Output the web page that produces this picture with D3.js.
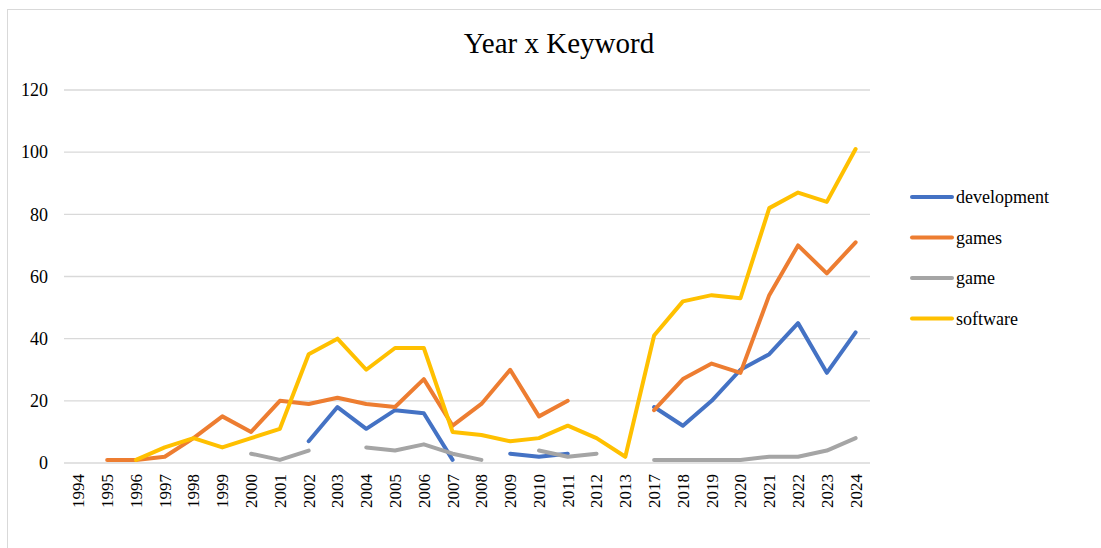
<!DOCTYPE html>
<html>
<head>
<meta charset="utf-8">
<script src="https://cdn.jsdelivr.net/npm/d3@7"></script>
<style>
  body { margin: 0; background: #fff; }
  svg, svg text { font-family: "Liberation Serif", "Times New Roman", "DejaVu Serif", serif; }
  svg { display: block; }
  .grid line { stroke: #d9d9d9; stroke-width: 1.3; }
</style>
</head>
<body>
<div class="container"></div>
<script>
const years = ["1994", "1995", "1996", "1997", "1998", "1999", "2000", "2001", "2002", "2003",
  "2004", "2005", "2006", "2007", "2008", "2009", "2010", "2011", "2012", "2013",
  "2017", "2018", "2019", "2020", "2021", "2022", "2023", "2024"];

// null = no value that year (line has a gap)
const development = [null, null, null, null, null, null, null, null, 7, 18,
  11, 17, 16, 1, null, 3, 2, 3, null, null,
  18, 12, 20, 30, 35, 45, 29, 42];
const games = [null, 1, 1, 2, 8, 15, 10, 20, 19, 21,
  19, 18, 27, 12, 19, 30, 15, 20, null, null,
  17, 27, 32, 29, 54, 70, 61, 71];
const game = [null, null, null, null, null, null, 3, 1, 4, null,
  5, 4, 6, 3, 1, null, 4, 2, 3, null,
  1, 1, 1, 1, 2, 2, 4, 8];
const software = [null, null, 1, 5, 8, 5, 8, 11, 35, 40,
  30, 37, 37, 10, 9, 7, 8, 12, 8, 2,
  41, 52, 54, 53, 82, 87, 84, 101];

const yTicks = [0, 20, 40, 60, 80, 100, 120];

const seriesNames = ["development", "games", "game", "software"];
const seriesValues = [development, games, game, software];
const colors = ["#4472c4", "#ed7d31", "#a5a5a5", "#ffc000"];

const W = 1101, H = 548;
const plot = { left: 64, right: 870, top: 90, bottom: 463 };
const serif = '"Liberation Serif", "Times New Roman", serif';

const svg = d3.select(".container").append("svg")
  .attr("width", W).attr("height", H)
  .attr("font-family", serif);

// outer chart border
svg.append("rect")
  .attr("x", 7.5).attr("y", 9.5)
  .attr("width", 1200).attr("height", 700)
  .attr("fill", "none").attr("stroke", "#d9d9d9").attr("stroke-width", 1);

svg.append("text")
  .attr("x", 559).attr("y", 53)
  .attr("text-anchor", "middle")
  .attr("font-family", serif)
  .attr("font-size", 29)
  .attr("fill", "#000")
  .text("Year x Keyword");

const x = d3.scaleBand().domain(years).range([plot.left, plot.right]);
const y = d3.scaleLinear().domain([0, 120]).range([plot.bottom, plot.top]);

// horizontal grid
svg.append("g").attr("class", "grid")
  .selectAll("line").data(yTicks).join("line")
  .attr("x1", plot.left).attr("x2", plot.right)
  .attr("y1", d => y(d)).attr("y2", d => y(d));

// y axis labels
svg.append("g")
  .selectAll("text").data(yTicks).join("text")
  .attr("x", 48).attr("y", d => y(d))
  .attr("dy", "0.35em")
  .attr("text-anchor", "end")
  .attr("font-family", serif)
  .attr("font-size", 18)
  .text(d => d);

// x axis labels, rotated
svg.append("g")
  .selectAll("text").data(years).join("text")
  .attr("transform", d => `translate(${x(d) + x.bandwidth() / 2},${plot.bottom + 11}) rotate(-90)`)
  .attr("text-anchor", "end")
  .attr("dy", "0.35em")
  .attr("font-family", serif)
  .attr("font-size", 17)
  .text(d => d);

const line = d3.line()
  .defined(d => d.v !== null)
  .x(d => x(d.year) + x.bandwidth() / 2)
  .y(d => y(d.v));

seriesValues.forEach((vals, i) => {
  const pts = years.map((yr, j) => ({ year: yr, v: vals[j] }));
  svg.append("path")
    .datum(pts)
    .attr("fill", "none")
    .attr("stroke", colors[i])
    .attr("stroke-width", 4)
    .attr("stroke-linejoin", "round")
    .attr("stroke-linecap", "round")
    .attr("d", line);
});

// legend
const legend = svg.append("g")
  .selectAll("g").data(seriesNames).join("g")
  .attr("transform", (d, i) => `translate(912,${197 + i * 40.5})`);
legend.append("line")
  .attr("x1", 0).attr("x2", 40)
  .attr("stroke", (d, i) => colors[i])
  .attr("stroke-width", 4)
  .attr("stroke-linecap", "round");
legend.append("text")
  .attr("x", 44).attr("dy", "0.35em")
  .attr("font-family", serif)
  .attr("font-size", 18)
  .text(d => d);
</script>
</body>
</html>
